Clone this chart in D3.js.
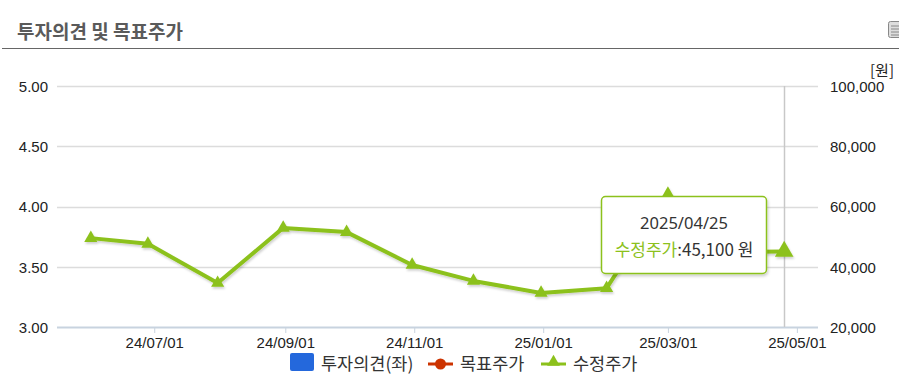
<!DOCTYPE html>
<html><head><meta charset="utf-8">
<script src="https://cdn.jsdelivr.net/npm/d3@7"></script>
<style>
body{margin:0;background:#fff;}
svg{display:block;font-family:"Noto Sans","Noto Sans CJK KR",sans-serif;}
</style></head><body>
<svg id="c" width="899" height="381"></svg>
<script>
const dates = ["2024-06-01","2024-06-28","2024-07-31","2024-08-31","2024-09-30","2024-10-31","2024-11-29","2024-12-31","2025-01-31","2025-03-01","2025-03-31","2025-04-25"];
const prices = [49500,47600,34600,52900,51500,40600,35300,31300,32900,64200,44900,45100];
const leftTicks = [3.0,3.5,4.0,4.5,5.0];
const rightTicks = [20000,40000,60000,80000,100000];
const xTicks = ["2024-07-01","2024-09-01","2024-11-01","2025-01-01","2025-03-01","2025-05-01"];
const legendItems = ["투자의견(좌)","목표주가","수정주가"];
const tip = {date:"2025/04/25", name:"수정주가", value:"45,100 원"};

const svg = d3.select("#c");
const parse = d3.timeParse("%Y-%m-%d");
const L=57,R=818,T=86,B=327;
const x = d3.scaleTime().domain([parse("2024-05-16"),parse("2025-05-11")]).range([L,R]);
const yL = d3.scaleLinear().domain([3,5]).range([B,T]);
const yR = d3.scaleLinear().domain([20000,100000]).range([B,T]);

// title
svg.append("text").attr("x",17).attr("y",39).attr("font-size",19).attr("font-weight","bold")
  .attr("fill","#5a5a5a").attr("font-family","'Noto Sans CJK KR',sans-serif").text("투자의견 및 목표주가");
svg.append("line").attr("x1",2).attr("x2",899).attr("y1",48.5).attr("y2",48.5).attr("stroke","#666").attr("stroke-width",1);
// icon
const ic = svg.append("g");
ic.append("rect").attr("x",888.5).attr("y",21.5).attr("width",14).attr("height",16).attr("rx",2).attr("fill","#ddd").attr("stroke","#888");
[26,29,32,35].forEach(v=>ic.append("line").attr("x1",891).attr("x2",902).attr("y1",v).attr("y2",v).attr("stroke","#888"));

// grid
svg.append("g").selectAll("line").data(leftTicks.slice(1)).join("line")
  .attr("x1",L).attr("x2",R).attr("y1",d=>Math.round(yL(d))+0.5).attr("y2",d=>Math.round(yL(d))+0.5)
  .attr("stroke","#dcdcdc").attr("stroke-width",1.5);
// bottom axis
const xa = svg.append("g").attr("transform",`translate(0,${B})`)
  .call(d3.axisBottom(x).tickValues(xTicks.map(parse)).tickFormat(d3.timeFormat("%y/%m/%d")).tickSize(6).tickPadding(2));
xa.select(".domain").attr("d",`M${L},0.5H${R}`).attr("stroke","#c8d3df").attr("stroke-width",2);
xa.selectAll(".tick line").attr("stroke","#c8d3df").attr("stroke-width",1);
xa.selectAll(".tick text").attr("font-size",15).attr("fill","#222").attr("dy","0.85em");

// left axis
const la = svg.append("g").attr("transform",`translate(${L},0)`)
  .call(d3.axisLeft(yL).tickValues(leftTicks).tickFormat(d3.format(".2f")).tickSize(0).tickPadding(9));
la.select(".domain").remove();
la.selectAll("text").attr("font-size",15).attr("fill","#222").attr("dy","0.35em");
// right axis
const ra = svg.append("g").attr("transform",`translate(${R},0)`)
  .call(d3.axisRight(yR).tickValues(rightTicks).tickFormat(d3.format(",")).tickSize(0).tickPadding(12));
ra.select(".domain").remove();
ra.selectAll("text").attr("font-size",15).attr("fill","#222").attr("dy","0.35em");
svg.append("text").attr("x",894).attr("y",76).attr("text-anchor","end").attr("font-size",15).attr("fill","#222")
  .attr("font-family","'Noto Sans CJK KR',sans-serif").text("[원]");

// hover line
const lastD = parse(dates[dates.length-1]);
svg.append("line").attr("x1",Math.round(x(lastD))+0.5).attr("x2",Math.round(x(lastD))+0.5).attr("y1",T).attr("y2",B)
  .attr("stroke","#c8c8c8").attr("stroke-width",1.5);

// series
const data = dates.map((d,i)=>({d:parse(d),v:prices[i]}));
const line = d3.line().x(d=>x(d.d)).y(d=>yR(d.v));
const defs = svg.append("defs");
const f = defs.append("filter").attr("id","sh").attr("x","-10%").attr("y","-10%").attr("width","120%").attr("height","130%");
f.append("feDropShadow").attr("dx",1).attr("dy",2).attr("stdDeviation",1.2).attr("flood-color","#000").attr("flood-opacity",0.18);
const g = svg.append("g").attr("filter","url(#sh)");
g.append("path").datum(data).attr("d",line).attr("fill","none").attr("stroke","#8cc11c").attr("stroke-width",4).attr("stroke-linejoin","round");
const tri = d3.symbol().type(d3.symbolTriangle).size(75);
g.selectAll(".m").data(data).join("path").attr("d",(d,i)=> i===data.length-1 ? d3.symbol().type(d3.symbolTriangle).size(150)() : tri())
  .attr("transform",d=>`translate(${x(d.d)},${yR(d.v)})`).attr("fill","#8cc11c");

// tooltip
const tg = svg.append("g");
const tf = defs.append("filter").attr("id","tsh").attr("x","-10%").attr("y","-10%").attr("width","125%").attr("height","130%");
tf.append("feDropShadow").attr("dx",1).attr("dy",2).attr("stdDeviation",1.5).attr("flood-color","#000").attr("flood-opacity",0.2);
tg.append("rect").attr("x",601.5).attr("y",196.5).attr("width",165).attr("height",77).attr("rx",4)
  .attr("fill","#fff").attr("stroke","#8cc11c").attr("stroke-width",1.5).attr("filter","url(#tsh)");
tg.append("text").attr("x",684).attr("y",229).attr("text-anchor","middle").attr("font-size",16.5).attr("fill","#333").text(tip.date);
const t2 = tg.append("text").attr("x",684).attr("y",256).attr("text-anchor","middle").attr("font-size",17).attr("fill","#333")
  .attr("font-family","'Noto Sans CJK KR',sans-serif");
t2.append("tspan").attr("fill","#8cc11c").text(tip.name);
t2.append("tspan").text(":"+tip.value);

// legend
const lg = svg.append("g").attr("font-family","'Noto Sans CJK KR',sans-serif").attr("font-size",17.5).attr("fill","#333");
lg.append("rect").attr("x",290).attr("y",353).attr("width",24).attr("height",18).attr("rx",2).attr("fill","#2468dc");
lg.append("text").attr("x",321).attr("y",370).text(legendItems[0]);
lg.append("line").attr("x1",428).attr("x2",453).attr("y1",364).attr("y2",364).attr("stroke","#cc3300").attr("stroke-width",3);
lg.append("circle").attr("cx",440.5).attr("cy",364).attr("r",5.5).attr("fill","#cc3300");
lg.append("text").attr("x",460).attr("y",370).text(legendItems[1]);
lg.append("line").attr("x1",541).attr("x2",566).attr("y1",364).attr("y2",364).attr("stroke","#8cc11c").attr("stroke-width",3);
lg.append("path").attr("d",d3.symbol().type(d3.symbolTriangle).size(70)()).attr("transform","translate(553.5,362)").attr("fill","#8cc11c");
lg.append("text").attr("x",573).attr("y",370).text(legendItems[2]);
</script>
</body></html>
